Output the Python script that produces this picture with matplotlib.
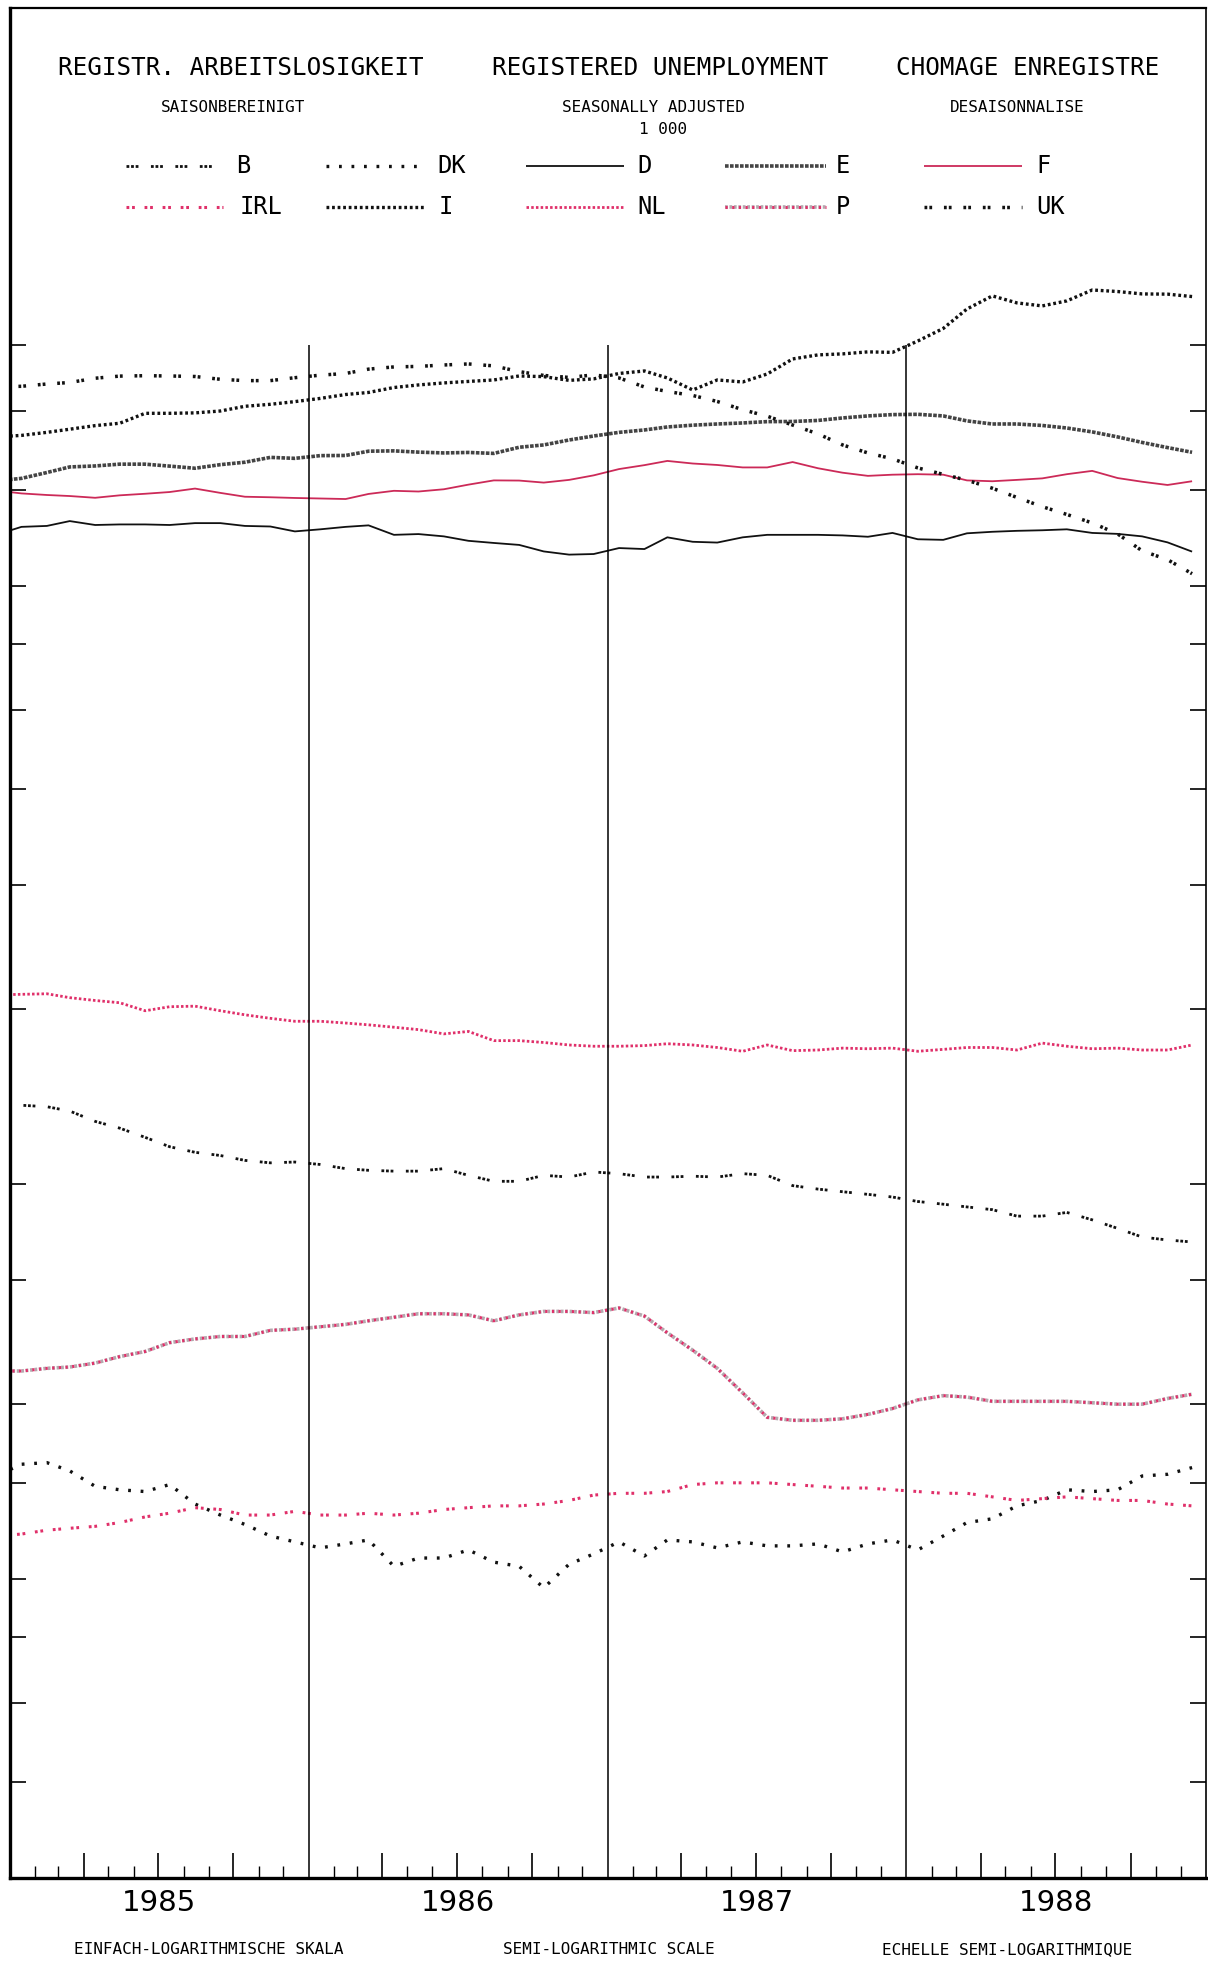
import matplotlib
matplotlib.use('Agg')
import matplotlib.pyplot as plt
import matplotlib.dates as mdates
import matplotlib.transforms as mtransforms
from matplotlib.lines import Line2D
from matplotlib.ticker import FixedLocator, NullLocator, NullFormatter
import pandas as pd

plt.rcParams['lines.scale_dashes'] = False
plt.rcParams['font.family'] = ['DejaVu Sans']

# ---------------- data (thousands, seasonally adjusted), Dec 1984 .. Dec 1988 ----------------
months = pd.date_range('1984-12-01', '1988-12-01', freq='MS') + pd.Timedelta(days=14)

B = [600,
     600, 598, 592, 578, 569, 557, 545, 538, 534, 528, 525, 526,
     523, 518, 516, 515, 515, 518, 510, 503, 503, 510, 508, 514,
     512, 508, 508, 509, 508, 512, 510, 498, 494, 491, 488, 485,
     480, 477, 474, 471, 464, 464, 468, 460, 451, 442, 439, 437]
DK = [254,
      261, 262, 257, 248, 246, 245, 249, 238, 232, 227, 221, 218,
      215, 217, 219, 206, 210, 210, 214, 208, 206, 196, 207, 212,
      218, 211, 219, 218, 215, 218, 216, 216, 217, 213, 217, 219,
      214, 221, 228, 230, 237, 240, 246, 245, 246, 254, 255, 259]
D = [2252,
     2294, 2299, 2325, 2304, 2307, 2307, 2304, 2314, 2314, 2299, 2296, 2270,
     2281, 2294, 2302, 2252, 2256, 2244, 2221, 2210, 2200, 2167, 2151, 2154,
     2184, 2179, 2239, 2216, 2212, 2239, 2252, 2252, 2252, 2249, 2242, 2262,
     2229, 2226, 2260, 2268, 2273, 2276, 2281, 2262, 2257, 2244, 2213, 2166]
E = [2552,
     2567, 2602, 2636, 2642, 2653, 2653, 2641, 2628, 2650, 2665, 2695, 2689,
     2706, 2707, 2734, 2736, 2728, 2723, 2726, 2720, 2759, 2774, 2806, 2832,
     2856, 2872, 2892, 2904, 2912, 2919, 2928, 2929, 2936, 2953, 2967, 2976,
     2978, 2967, 2933, 2912, 2912, 2902, 2885, 2859, 2826, 2790, 2757, 2727]
F = [2496,
     2479, 2470, 2464, 2454, 2468, 2477, 2487, 2507, 2482, 2460, 2457, 2453,
     2450, 2447, 2476, 2494, 2490, 2503, 2530, 2555, 2554, 2542, 2558, 2585,
     2623, 2647, 2673, 2657, 2648, 2633, 2633, 2666, 2628, 2601, 2582, 2589,
     2592, 2589, 2555, 2550, 2558, 2567, 2592, 2612, 2569, 2547, 2528, 2550]
IRL = [221,
       222, 224, 225, 226, 228, 231, 233, 236, 235, 232, 232, 234,
       232, 232, 233, 232, 233, 235, 236, 237, 237, 238, 240, 243,
       244, 244, 245, 249, 250, 250, 250, 249, 248, 247, 247, 246,
       245, 244, 244, 242, 240, 241, 242, 241, 240, 240, 238, 237]
I = [2826,
     2836, 2856, 2877, 2901, 2917, 2985, 2985, 2988, 3001, 3034, 3048, 3067,
     3090, 3118, 3133, 3169, 3188, 3203, 3214, 3225, 3255, 3250, 3222, 3233,
     3274, 3293, 3240, 3151, 3225, 3210, 3270, 3386, 3418, 3426, 3442, 3438,
     3530, 3634, 3802, 3919, 3856, 3829, 3874, 3973, 3959, 3937, 3935, 3913]
NL = [775,
      776, 777, 770, 765, 761, 747, 754, 755, 747, 740, 734, 729,
      729, 726, 723, 719, 715, 708, 712, 697, 697, 694, 690, 688,
      688, 689, 692, 690, 686, 680, 690, 681, 682, 685, 684, 685,
      680, 683, 686, 686, 682, 693, 688, 684, 685, 682, 682, 690]
P = [324,
     324, 326, 327, 330, 335, 339, 346, 349, 351, 351, 356, 357,
     359, 361, 364, 367, 370, 370, 369, 364, 369, 372, 372, 371,
     375, 368, 354, 340, 326, 308, 291, 289, 289, 290, 293, 297,
     303, 306, 305, 302, 302, 302, 302, 301, 300, 300, 304, 307]
UK = [3173,
      3178, 3195, 3206, 3238, 3254, 3257, 3255, 3251, 3230, 3220, 3220, 3242,
      3261, 3274, 3307, 3324, 3328, 3339, 3347, 3332, 3288, 3259, 3244, 3263,
      3240, 3173, 3140, 3111, 3068, 3010, 2965, 2905, 2846, 2774, 2723, 2686,
      2630, 2591, 2556, 2509, 2456, 2404, 2361, 2315, 2257, 2170, 2126, 2058]

y_ticks = [125, 150, 175, 200, 250, 300, 400, 500, 750, 1000, 1250, 1500, 1750,
           2000, 2500, 3000, 3500]
years = ['1985', '1986', '1987', '1988']
legend_row1 = ['B', 'DK', 'D', 'E', 'F']
legend_row2 = ['IRL', 'I', 'NL', 'P', 'UK']

# ---------------- styles ----------------
PINK = '#e0306a'
RED = '#cc2a58'
MONO = 'DejaVu Sans Mono'
styles = {
    'B':   [dict(color='#111111', lw=2.0, dashes=(2, 1.3, 2, 1.3, 2, 9))],
    'DK':  [dict(color='#111111', lw=2.4, dashes=(2, 7))],
    'D':   [dict(color='#111111', lw=1.3, ls='-')],
    'E':   [dict(color='#444444', lw=2.6, dashes=(2.6, 1.0))],
    'F':   [dict(color=RED, lw=1.3, ls='-')],
    'IRL': [dict(color=PINK, lw=2.2, dashes=(2, 2, 2, 7))],
    'I':   [dict(color='#111111', lw=2.4, dashes=(2, 2))],
    'NL':  [dict(color=PINK, lw=2.0, dashes=(1.8, 1.6))],
    'P':   [dict(color='#b4a8ae', lw=2.6, dashes=(2, 1.2)),
            dict(color=PINK, lw=2.2, dashes=(1.6, 3.2))],
    'UK':  [dict(color='#111111', lw=2.5, dashes=(2, 1.5, 2, 8.5))],
}
data = {'B': B, 'DK': DK, 'D': D, 'E': E, 'F': F, 'IRL': IRL, 'I': I,
        'NL': NL, 'P': P, 'UK': UK}

W, H = 1208, 1966
fig = plt.figure(figsize=(W / 100, H / 100), dpi=100)
fig.patch.set_facecolor('white')
ax = fig.add_axes([10 / W, 88 / H, 1196 / W, 1870 / H])
ax.set_facecolor('white')

ax.set_yscale('log')
ax.set_ylim(100, 7640)
ax.set_xlim(mdates.date2num(pd.Timestamp('1985-01-01')),
            mdates.date2num(pd.Timestamp('1989-01-01')))

xs = mdates.date2num(months.to_pydatetime())
for name, vals in data.items():
    for st in styles[name]:
        st = dict(st)
        ls = st.pop('ls', None)
        dashes = st.pop('dashes', None)
        line, = ax.plot(xs, vals, solid_capstyle='butt', dash_capstyle='butt', **st)
        if dashes is not None:
            line.set_dashes(dashes)
        elif ls:
            line.set_linestyle(ls)

# year separators
ax.vlines([mdates.date2num(pd.Timestamp(f'{y}-01-01')) for y in (1986, 1987, 1988)],
          100, 3500, color='black', lw=1.1)

# ticks
ax.yaxis.set_major_locator(FixedLocator(y_ticks))
ax.yaxis.set_minor_locator(NullLocator())
ax.yaxis.set_major_formatter(NullFormatter())
ax.yaxis.set_minor_formatter(NullFormatter())
ax.tick_params(axis='y', which='major', direction='in', length=11.5, width=1.2,
               left=True, right=True, labelleft=False, labelright=False)
ax.xaxis.set_major_locator(mdates.MonthLocator(bymonth=[4, 7, 10]))
ax.xaxis.set_minor_locator(mdates.MonthLocator(bymonth=[2, 3, 5, 6, 8, 9, 11, 12]))
ax.xaxis.set_major_formatter(NullFormatter())
ax.xaxis.set_minor_formatter(NullFormatter())
ax.tick_params(axis='x', which='major', direction='in', length=18, width=1.2,
               bottom=True, top=False)
ax.tick_params(axis='x', which='minor', direction='in', length=8.5, width=1.0,
               bottom=True, top=False)

for side, lw in (('left', 2.4), ('bottom', 2.4), ('top', 1.6), ('right', 1.2)):
    ax.spines[side].set_linewidth(lw)
    ax.spines[side].set_color('black')

# year labels
trans = mtransforms.blended_transform_factory(ax.transData, ax.transAxes)
for y in years:
    xm = mdates.date2num(pd.Timestamp(f'{y}-07-02'))
    ax.text(xm, -25 / 1870, y, transform=trans, ha='center', va='center',
            fontsize=21, color='black')

# titles
def ft(xpx, ypx, s, size, ha='center', family='DejaVu Sans'):
    fig.text(xpx / W, 1 - ypx / H, s, ha=ha, va='center', fontsize=size,
             color='black', family=family)

ft(241, 68, 'REGISTR. ARBEITSLOSIGKEIT', 17.5, family=MONO)
ft(660, 68, 'REGISTERED UNEMPLOYMENT', 17.5, family=MONO)
ft(1028, 68, 'CHOMAGE ENREGISTRE', 17.5, family=MONO)
ft(233, 108, 'SAISONBEREINIGT', 11.5, family=MONO)
ft(653, 108, 'SEASONALLY ADJUSTED', 11.5, family=MONO)
ft(1017, 108, 'DESAISONNALISE', 11.5, family=MONO)
ft(663, 129, '1 000', 11.5, family=MONO)
ft(209, 1950, 'EINFACH-LOGARITHMISCHE SKALA', 11.5, family=MONO)
ft(609, 1950, 'SEMI-LOGARITHMIC SCALE', 11.5, family=MONO)
ft(1007, 1950, 'ECHELLE SEMI-LOGARITHMIQUE', 11.5, family=MONO)

# legend (manual, two rows of five)
col_x0 = [126, 326, 526, 725, 924]
col_x1 = [223, 424, 624, 826, 1022]
lab_x = [[236, 437, 637, 836, 1036], [240, 439, 637, 836, 1036]]
for r, (row, ypx) in enumerate(((legend_row1, 166), (legend_row2, 207))):
    for k, name in enumerate(row):
        yf = 1 - ypx / H
        for st in styles[name]:
            st = dict(st)
            ls = st.pop('ls', None)
            dashes = st.pop('dashes', None)
            ln = Line2D([col_x0[k] / W, col_x1[k] / W], [yf, yf], transform=fig.transFigure,
                        solid_capstyle='butt', dash_capstyle='butt', **st)
            if dashes is not None:
                ln.set_dashes(dashes)
            elif ls:
                ln.set_linestyle(ls)
            fig.add_artist(ln)
        ft(lab_x[r][k], ypx, name, 17, ha='left', family=MONO)

fig.savefig('out.png', dpi=100, facecolor='white')
